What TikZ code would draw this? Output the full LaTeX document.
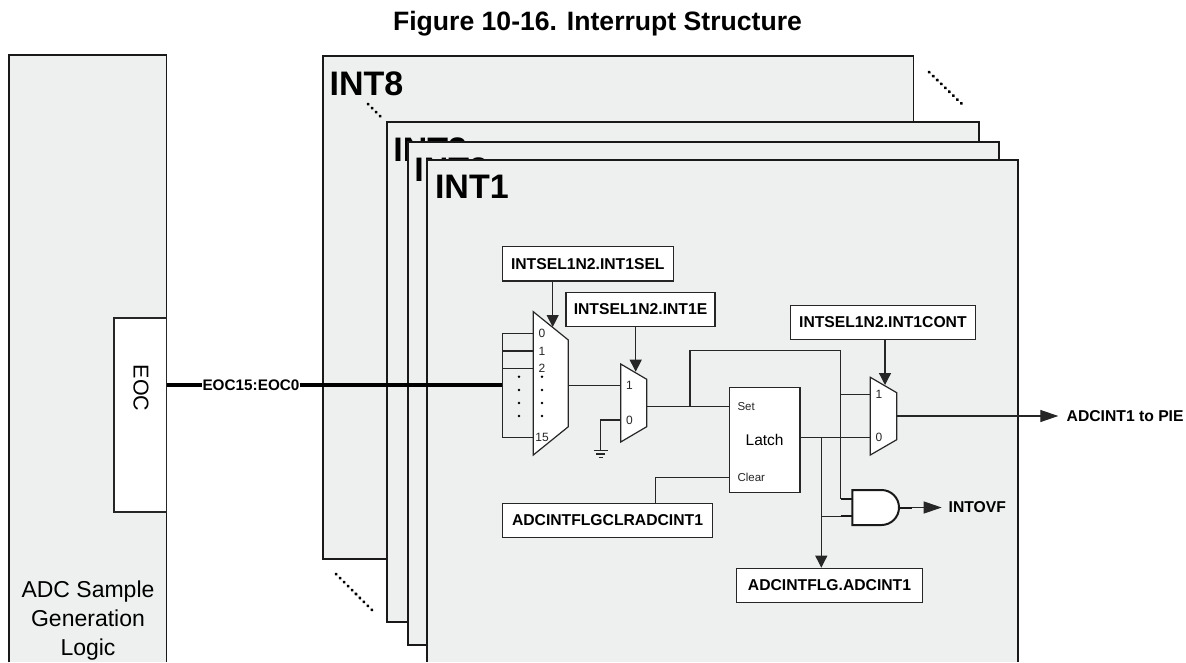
\documentclass[tikz,border=0pt]{standalone}
\usepackage{fontspec}
\setmainfont{Liberation Sans}
\usepackage{xcolor}
\usetikzlibrary{arrows.meta, calc}
\definecolor{panelgray}{HTML}{EEF0F0}
\begin{document}
\begin{tikzpicture}[
  x=1pt, y=-1pt,
  every node/.style={inner sep=0pt, align=center},
  panel/.style={draw=black!90, line width=1.7pt, fill=panelgray},
  regbox/.style={draw=black!85, line width=1.2pt, fill=white, inner sep=0pt,
                 minimum height=34.5pt, font=\fontsize{15.7}{18}\selectfont\bfseries},
  muxbody/.style={draw=black!85, line width=1.2pt, fill=white, line join=miter},
  pinlbl/.style={anchor=west, minimum width=17pt, text=black!85,
                 font=\fontsize{12}{14}\selectfont},
  latchlbl/.style={anchor=west, inner xsep=8pt, text=black!85,
                 font=\fontsize{11.5}{14}\selectfont},
  intlbl/.style={anchor=base west, font=\fontsize{34}{38}\selectfont\bfseries},
  siglbl/.style={anchor=west, font=\fontsize{15.7}{18}\selectfont\bfseries},
  wire/.style={draw=black!85, line width=1.25pt},
  arr/.style={wire, -{Triangle[length=12pt, width=12pt]}},
  arrlong/.style={wire, -{Triangle[length=18pt, width=12pt]}},
  stub/.style={draw=black!90, line width=2pt},
  bus/.style={draw=black, line width=3.6pt},
  more/.style={draw=black, line width=3pt, line cap=round, dash pattern=on 0.6pt off 5pt},
]
  \useasboundingbox (0,0) rectangle (1186,662);

  \node[anchor=base, font=\fontsize{26.6}{30}\selectfont\bfseries] (title) at (597.5,30) {Figure 10-16. Interrupt Structure};

  % sample generation block, runs off the page
  \draw[panel] (9,662) -- (9,55) -- (166.5,55) -- (166.5,662);
  \node[font=\fontsize{23}{29}\selectfont] (adclbl) at (88,621) {ADC Sample\\Generation\\Logic};
  \node[draw=black!85, line width=1.2pt, fill=white, minimum width=52.5pt, minimum height=194pt] (eocbox) at (140.2,415) {};
  \node[rotate=-90, font=\fontsize{21.5}{24}\selectfont] (eoclbl) at (141,388) {EOC};

  % stacked interrupt panels
  \foreach \name/\txt/\xa/\ya/\xb/\yb in {eight/INT8/323/56/913.5/559.3,
                                           three/INT3/386.7/122/979/622,
                                           two/INT2/407.7/141.7/998.7/644.7} {
    \draw[panel] (\xa,\ya) rectangle (\xb,\yb);
    \node[intlbl] (lbl\name) at ($(\xa,\ya)+(6.5,39.7)$) {\txt};
  }
  \draw[panel] (427.3,662) -- (427.3,160) -- (1018,160) -- (1018,662);
  \node[intlbl] (lblone) at (434.8,198) {INT1};

  \draw[more] (368,104) -- (381,117);
  \draw[more] (929,72) -- (965,107);
  \draw[more] (336,574) -- (372,610);

  % register boxes
  \node[regbox, minimum width=171pt] (selbox) at (587.8,263.8) {INTSEL1N2.INT1SEL};
  \node[regbox, minimum width=149pt] (enbox) at (640.5,309.5) {INTSEL1N2.INT1E};
  \node[regbox, minimum width=184.5pt] (contbox) at (882.9,322.5) {INTSEL1N2.INT1CONT};
  \node[regbox, minimum width=210.5pt] (clrbox) at (607.5,520.5) {ADCINTFLGCLRADCINT1};
  \node[regbox, minimum width=185.5pt] (flgbox) at (829.5,585.5) {ADCINTFLG.ADCINT1};

  % muxes
  \draw[muxbody] (533.3,311.7) -- (568.3,340) -- (568.3,426.7) -- (533.3,455) -- cycle;
  \draw[muxbody] (620.7,364) -- (646.7,379.3) -- (646.7,426.7) -- (620.7,442) -- cycle;
  \draw[muxbody] (870.3,377.3) -- (896.7,392.7) -- (896.7,439.7) -- (870.3,455) -- cycle;

  \node[pinlbl] (sela0) at (533.3,333.3) {0};
  \node[pinlbl] (sela1) at (533.3,351) {1};
  \node[pinlbl] (sela2) at (533.3,368.3) {2};
  \node[pinlbl] (sela15) at (533.3,437.7) {15};
  \node[pinlbl] (enb1) at (620.7,385.3) {1};
  \node[pinlbl] (enb0) at (620.7,420) {0};
  \node[pinlbl] (contc1) at (870.3,394.3) {1};
  \node[pinlbl] (contc0) at (870.3,437.7) {0};

  \foreach \yy in {376.7, 390, 403, 416}
    \foreach \xx in {519, 542}
      \fill[black] (\xx,\yy) circle (1.3);

  % latch
  \node[draw=black!85, line width=1.2pt, fill=white, minimum width=70.7pt, minimum height=104.6pt,
        font=\fontsize{15.5}{18}\selectfont] (latch) at (764.6,440) {Latch};
  \node[latchlbl] (setpin) at (729.3,406.7) {Set};
  \node[latchlbl] (clearpin) at (729.3,477.7) {Clear};

  % and gate
  \draw[draw=black!90, line width=2pt, fill=white] (852.3,490) -- (881.5,490)
    arc[start angle=90, end angle=-90, x radius=17.5, y radius=-17.5] -- (852.3,525) -- cycle;
  \coordinate (anda) at (852.3,498.7);
  \coordinate (andb) at (852.3,516.3);
  \coordinate (andout) at (899,507.5);

  % free ends and junctions
  \coordinate (busend) at (502.3,385);
  \coordinate (selarrow) at (552.7,327);
  \coordinate (enarrow) at (635.7,371.7);
  \coordinate (contarrow) at (885,385);
  \coordinate (muxaout) at (568.3,385.3);
  \coordinate (muxbout) at (646.7,406.7);
  \coordinate (muxcout) at (896.7,416);
  \coordinate (latchout) at (800,437.7);
  \coordinate (fbjoin) at (690,406.7);
  \coordinate (fbtop) at (840.5,350.7);
  \coordinate (flgjoin) at (821.3,437.7);
  \coordinate (gndtop) at (600.7,450.5);
  \coordinate (clrdrop) at (655.7,503);
  \coordinate (pieend) at (1058.3,416);
  \coordinate (ovfend) at (941.7,507.5);

  % bus and rail
  \node[font=\fontsize{15.3}{18}\selectfont\bfseries] (buslbl) at (251,385) {EOC15:EOC0};
  \draw[bus] (eocbox.east |- busend) -- (buslbl);
  \draw[bus] (buslbl) -- (busend);
  \draw[wire] (sela0.west) -- (sela0.west -| busend) -- (sela15.west -| busend) -- (sela15.west);
  \draw[wire] (sela1.west) -- (sela1.west -| busend);
  \draw[wire] (sela2.west) -- (sela2.west -| busend);

  \draw[wire] (muxaout) -- (enb1.west);
  \draw[wire] (enb0.west) -| (gndtop);
  \draw[wire] ($(gndtop)+(-7,0)$) -- ($(gndtop)+(7,0)$);
  \draw[wire] ($(gndtop)+(-4.5,3.5)$) -- ($(gndtop)+(4.5,3.5)$);
  \draw[wire] ($(gndtop)+(-2,7)$) -- ($(gndtop)+(2,7)$);

  \draw[arr] (selbox.south -| selarrow) -- (selarrow);
  \draw[arr] (enbox.south -| enarrow) -- (enarrow);
  \draw[arr] (contbox.south -| contarrow) -- (contarrow);

  \draw[wire] (muxbout) -- (setpin.west);
  \draw[wire] (fbjoin) |- (fbtop) -- (fbtop |- anda) -- (anda);
  \draw[wire] (fbtop |- contc1.west) -- (contc1.west);
  \draw[wire] (latchout) -- (contc0.west);
  \draw[wire] (clearpin.west) -| (clrdrop);
  \draw[arr] (flgjoin) -- (flgjoin |- flgbox.north);
  \draw[wire] (flgjoin |- andb) -- (andb);
  \draw[stub] (fbtop |- anda) -- (anda);
  \draw[stub] (fbtop |- andb) -- (andb);

  \draw[arrlong] (muxcout) -- (pieend);
  \node[siglbl] (pielbl) at (1066.5,416) {ADCINT1 to PIE};
  \draw[stub] (andout) -- (911.7,507.5);
  \draw[arrlong] (911.7,507.5) -- (ovfend);
  \node[siglbl] (ovflbl) at (948.5,507.5) {INTOVF};
\end{tikzpicture}
\end{document}
